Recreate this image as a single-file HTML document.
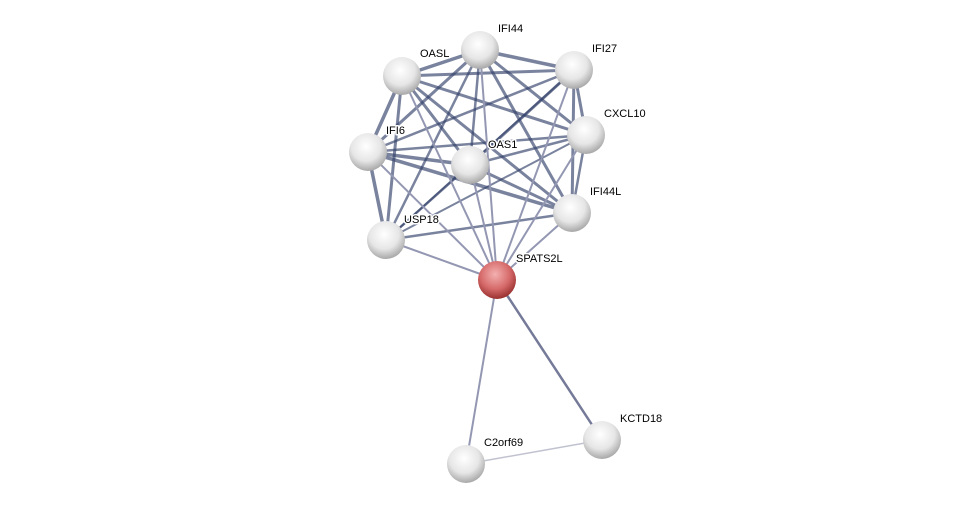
<!DOCTYPE html>
<html><head><style>body{margin:0;background:#fff}svg{display:block}text{font-family:"Liberation Sans",sans-serif;font-size:11px;fill:#000;stroke:#fff;stroke-width:3px;paint-order:stroke;stroke-linejoin:round}</style></head>
<body>
<svg width="976" height="510" viewBox="0 0 976 510">
<defs>
<radialGradient id="g" cx="0.45" cy="0.35" r="0.65">
<stop offset="0" stop-color="#ffffff"/><stop offset="0.6" stop-color="#e6e6e6"/><stop offset="1" stop-color="#a8a8a8"/></radialGradient>
<radialGradient id="r" cx="0.45" cy="0.35" r="0.65">
<stop offset="0" stop-color="#f4b0b0"/><stop offset="0.6" stop-color="#d66a6a"/><stop offset="1" stop-color="#9a3030"/></radialGradient>
</defs>
<g stroke-linecap="round">
<g stroke="#33406a" stroke-opacity="0.65">
<line stroke-width="3.5" x1="480" y1="50" x2="402" y2="76"/><line stroke-width="3.5" x1="480" y1="50" x2="574" y2="70"/><line stroke-width="3" x1="480" y1="50" x2="586" y2="135"/>
<line stroke-width="3" x1="480" y1="50" x2="368" y2="152"/><line stroke-width="2.5" x1="480" y1="50" x2="470" y2="165"/><line stroke-width="3" x1="480" y1="50" x2="572" y2="213"/>
<line stroke-width="2.5" x1="480" y1="50" x2="386" y2="240"/>
<line stroke-width="3" x1="402" y1="76" x2="574" y2="70"/><line stroke-width="3" x1="402" y1="76" x2="586" y2="135"/><line stroke-width="3.5" x1="402" y1="76" x2="368" y2="152"/>
<line stroke-width="3" x1="402" y1="76" x2="470" y2="165"/><line stroke-width="3" x1="402" y1="76" x2="572" y2="213"/><line stroke-width="3" x1="402" y1="76" x2="386" y2="240"/>
<line stroke-width="3" x1="574" y1="70" x2="586" y2="135"/><line stroke-width="2.5" x1="574" y1="70" x2="368" y2="152"/><line stroke-width="3" x1="574" y1="70" x2="470" y2="165"/>
<line stroke-width="3" x1="574" y1="70" x2="572" y2="213"/><line stroke-width="2" x1="574" y1="70" x2="386" y2="240"/>
<line stroke-width="2.5" x1="586" y1="135" x2="368" y2="152"/><line stroke-width="2.5" x1="586" y1="135" x2="470" y2="165"/><line stroke-width="2.5" x1="586" y1="135" x2="572" y2="213"/>
<line stroke-width="2" x1="586" y1="135" x2="386" y2="240"/>
<line stroke-width="3.5" x1="368" y1="152" x2="470" y2="165"/><line stroke-width="3.5" x1="368" y1="152" x2="572" y2="213"/><line stroke-width="3.5" x1="368" y1="152" x2="386" y2="240"/>
<line stroke-width="3" x1="470" y1="165" x2="572" y2="213"/><line stroke-width="2.5" x1="470" y1="165" x2="386" y2="240"/>
<line stroke-width="2.5" x1="572" y1="213" x2="386" y2="240"/>
</g>
<g stroke="#9397b2">
<line stroke-width="2" x1="497" y1="280" x2="480" y2="50"/><line stroke-width="2" x1="497" y1="280" x2="402" y2="76"/><line stroke-width="2" x1="497" y1="280" x2="574" y2="70"/>
<line stroke-width="2" x1="497" y1="280" x2="586" y2="135"/><line stroke-width="2" x1="497" y1="280" x2="368" y2="152"/><line stroke-width="2" x1="497" y1="280" x2="470" y2="165"/>
<line stroke-width="2" x1="497" y1="280" x2="572" y2="213"/><line stroke-width="2" x1="497" y1="280" x2="386" y2="240"/>
<line stroke-width="2" x1="497" y1="280" x2="466" y2="464"/>
</g>
<line x1="497" y1="280" x2="602" y2="440" stroke="#757a98" stroke-width="2.5"/>
<line x1="466" y1="464" x2="602" y2="440" stroke="#c0c2cf" stroke-width="1.5"/>
</g>
<g>
<circle cx="480" cy="50" r="19" fill="url(#g)"/><circle cx="402" cy="76" r="19" fill="url(#g)"/>
<circle cx="574" cy="70" r="19" fill="url(#g)"/><circle cx="586" cy="135" r="19" fill="url(#g)"/>
<circle cx="368" cy="152" r="19" fill="url(#g)"/><circle cx="470" cy="165" r="19" fill="url(#g)"/>
<circle cx="572" cy="213" r="19" fill="url(#g)"/><circle cx="386" cy="240" r="19" fill="url(#g)"/>
<circle cx="497" cy="280" r="19" fill="url(#r)"/>
<circle cx="602" cy="440" r="19" fill="url(#g)"/><circle cx="466" cy="464" r="19" fill="url(#g)"/>
</g>
<text x="498" y="32">IFI44</text><text x="420" y="57">OASL</text><text x="592" y="52">IFI27</text>
<text x="604" y="117">CXCL10</text><text x="386" y="134">IFI6</text><text x="488" y="148">OAS1</text>
<text x="590" y="195">IFI44L</text><text x="404" y="223">USP18</text><text x="516" y="262">SPATS2L</text>
<text x="620" y="422">KCTD18</text><text x="484" y="446">C2orf69</text>
</svg>
</body></html>
